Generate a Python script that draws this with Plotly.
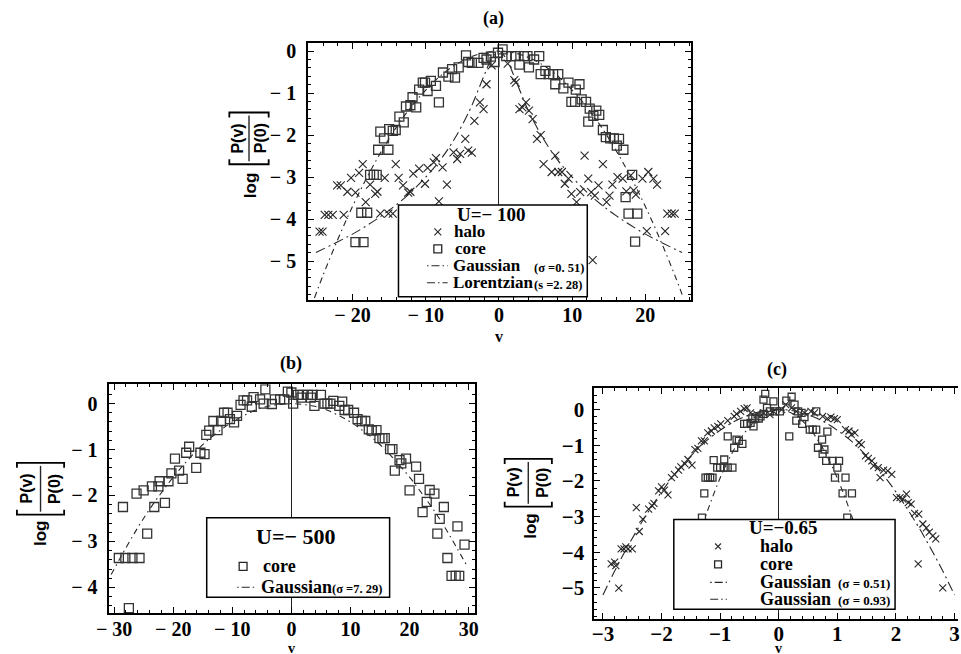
import plotly.graph_objects as go

W, H = 961, 654

# ---------------- data ----------------
# panel (a)  U = -100
a_halo_v = [-24.5, -24.1, -23.8, -23.3, -22.7, -21.2, -22.1, -21.6, -20.2, -20.7, -19.6, -19.1, -18.6,
            -17.6, -16.9, -16.6, -18.2, -15.6, -14.1, -13.7, -13.1, -12.4, -12.1, -11.7, -10.9, -10.1,
            -9.75, -8.9, -8.6, -7.7, -7.1, -8.2, -15.1, -14.5, -16.2, -6.2, -5.7, -5.3, -4.2, -3.7, -4.6,
            -3.35, -2.6, -2.1, -1.7, -1.0,
            1.2, 2.1, 2.3, 2.8, 3.2, 3.7, 4.1, 4.6, 5.2, 5.7, 6.1, 7.2, 7.7, 8.1, 8.6, 9.0, 9.5, 9.9,
            10.6, 11.1, 11.7, 12.2, 12.6, 13.1, 13.6, 14.2, 14.7, 15.1, 15.5, 16.2, 16.9, 17.4, 18.0,
            18.4, 18.7, 19.6, 20.4, 21.1, 21.6, 20.2, 22.7, 23.0, 23.6, 24.0, 12.8]
a_halo_logp = [-4.3, -4.3, -3.9, -3.9, -3.9, -3.9, -3.2, -3.2, -3.02, -3.35, -3.37, -2.9, -2.69,
               -3.18, -3.4, -3.35, -3.6, -3.02, -2.69, -3.02, -3.2, -3.37, -3.35, -2.92, -2.8, -3.16,
               -2.78, -2.65, -2.55, -2.77, -3.18, -3.58, -3.87, -3.87, -3.87, -2.41, -2.57, -2.45, -2.37,
               -2.42, -2.09, -1.66, -1.22, -1.38, -0.79, -0.34,
               -0.3, -0.69, -0.75, -1.38, -1.34, -1.22, -1.42, -1.62, -2.09, -2.0, -2.69, -2.88, -2.49,
               -2.88, -2.88, -3.16, -3.04, -3.4, -3.6, -3.36, -2.49, -3.04, -3.36, -3.44, -3.2, -2.69,
               -3.6, -3.44, -3.18, -3.0, -3.04, -3.34, -2.96, -3.32, -3.42, -3.04, -2.88, -3.04, -3.18,
               -4.29, -4.29, -3.87, -3.87, -3.87, -4.98]
a_core_v = [-19.6, -18.5, -18.8, -18.0, -17.6, -17.1, -16.7, -16.5, -15.1, -16.2, -15.7, -15.0, -14.5,
            -14.1, -13.6, -13.0, -12.7, -12.1, -11.8, -11.3, -10.9, -10.4, -10.1, -9.75, -9.3, -8.6,
            -8.2, -7.65, -6.9, -6.4, -6.0, -5.5, -4.5, -4.2, -3.7, -2.8, -2.1, -1.7, -1.1, -0.6, -0.13,
            0.5, 1.0, 1.7, 2.3, 2.8, 3.4, 3.9, 4.1, 4.8, 5.5, 5.7, 6.35, 6.8, 7.4, 8.1, 7.7, 8.8, 9.5,
            10.5, 11.0, 9.9, 10.4, 11.3, 11.9, 12.4, 12.9, 13.3, 13.7, 12.2, 14.2, 14.6, 15.2, 15.7,
            16.4, 16.1, 17.0, 18.2, 17.3, 17.7, 18.9, 18.6]
a_core_logp = [-4.55, -4.55, -3.85, -3.85, -2.95, -2.95, -2.95, -2.35, -2.35, -1.92, -2.08, -1.86, -1.9,
               -1.88, -1.56, -1.7, -1.32, -1.29, -1.1, -1.34, -0.92, -0.75, -0.75, -0.95, -0.71, -0.83,
               -1.22, -0.51, -0.61, -0.43, -0.63, -0.39, -0.1, -0.26, -0.28, -0.28, -0.16, -0.2, -0.13,
               -0.26, -0.04,
               0.04, -0.12, -0.12, -0.12, -0.32, -0.12, -0.12, -0.39, -0.2, -0.12, -0.55, -0.47, -0.55,
               -0.55, -0.55, -0.79, -0.89, -0.75, -0.92, -0.79, -1.21, -1.21, -1.15, -1.21, -1.37, -1.54,
               -1.42, -1.52, -1.68, -1.88, -2.05, -2.08, -2.08, -2.09, -2.25, -2.35, -2.95, -3.48, -3.87,
               -3.87, -4.54]
a_gauss_v = [-25.2, -24, -22, -20, -18, -16, -14, -12, -10, -8, -6, -4, -2, 0,
             2, 4, 6, 8, 10, 12, 14, 16, 18, 20, 22, 24, 25.2]
a_gauss_logp = [-5.88, -5.33, -4.48, -3.70, -3.00, -2.37, -1.81, -1.33, -0.93, -0.59, -0.33, -0.15, -0.04, 0,
                -0.04, -0.15, -0.33, -0.59, -0.93, -1.33, -1.81, -2.37, -3.00, -3.70, -4.48, -5.33, -5.88]
a_lor_v = [-25, -22, -20, -18, -16, -14, -12, -10, -8, -6, -4, -3, -2, -1, 0,
           1, 2, 3, 4, 6, 8, 10, 12, 14, 16, 18, 20, 22, 25]
a_lor_logp = [-4.80, -4.54, -4.36, -4.15, -3.92, -3.66, -3.36, -3.0, -2.59, -2.07, -1.41, -1.0, -0.57, -0.18, 0,
              -0.18, -0.57, -1.0, -1.41, -2.07, -2.59, -3.0, -3.36, -3.66, -3.92, -4.15, -4.36, -4.54, -4.80]

# panel (b)  U = -500
b_core_v = [-27.5, -28.5, -29.2, -28.1, -26.9, -25.7, -26.2, -25.0, -24.4, -23.6, -22.5, -23.2, -22.3,
            -21.4, -20.8, -20.3, -19.7, -19.0, -18.4, -17.8, -17.3, -16.1, -15.4, -14.7, -14.4, -13.9,
            -13.2, -12.5, -11.9, -11.4, -10.8, -10.4, -9.7, -9.2, -8.6, -8.1, -7.5, -6.7, -6.4, -5.3,
            -4.4, -4.7, -3.3, -2.8, -1.9, -1.2, -0.6, 0.3, 0.0,
            1.1, 1.9, 2.8, 3.6, 1.7, 3.3, 3.9, 5.0, 5.6, 6.1, 6.6, 7.1, 8.1, 8.6, 9.0, 9.6, 10.6, 11.2,
            11.9, 12.5, 13.1, 13.6, 14.4, 14.9, 15.4, 15.8, 16.7, 17.1, 17.5, 18.3, 19.4, 18.6, 20.0,
            21.1, 21.6, 22.2, 22.9, 23.4, 24.2, 24.7, 25.1, 25.8, 26.4, 27.1, 27.8, 28.4, 28.1, 29.3]
b_core_logp = [-4.45, -2.25, -3.36, -3.36, -3.36, -3.36, -1.96, -1.89, -2.83, -1.8, -1.8, -2.25, -1.69,
               -2.16, -1.69, -1.52, -1.2, -1.46, -1.64, -1.07, -0.94, -1.4, -1.07, -1.1, -0.68, -0.59,
               -0.38, -0.58, -0.38, -0.2, -0.2, -0.34, -0.41, -0.27, -0.03, 0.07, 0.07, -0.07, 0.14, 0.09,
               0.31, 0.0, -0.01, 0.09, 0.09, 0.09, 0.26, 0.0, 0.24,
               0.19, 0.19, 0.19, 0.19, 0.13, 0.13, -0.05, 0.19, 0.0, 0.0, 0.0, 0.06, -0.05, 0.04, -0.14,
               -0.14, -0.2, -0.34, -0.38, -0.38, -0.56, -0.59, -0.58, -0.75, -0.75, -0.75, -0.99, -0.99,
               -1.46, -1.23, -1.2, -1.3, -1.89, -1.37, -1.64, -2.36, -2.14, -1.88, -1.96, -2.83, -2.51,
               -2.25, -3.36, -3.75, -3.75, -3.75, -2.67, -3.07]
b_gauss_v = [-30.5, -28, -26, -24, -22, -20, -18, -16, -14, -12, -10, -8, -6, -4, -2, 0,
             2, 4, 6, 8, 10, 12, 14, 16, 18, 20, 22, 24, 26, 28, 29.8]
b_gauss_logp = [-3.72, -3.14, -2.70, -2.30, -1.94, -1.60, -1.30, -1.02, -0.78, -0.58, -0.40, -0.26, -0.14,
                -0.06, -0.02, 0, -0.02, -0.06, -0.14, -0.26, -0.40, -0.58, -0.78, -1.02, -1.30, -1.60,
                -1.94, -2.30, -2.70, -3.14, -3.55]

# panel (c)  U = -0.65
c_halo_v = [-2.73, -2.86, -2.78, -2.8, -2.69, -2.64, -2.57, -2.5, -2.61, -2.43, -2.38, -2.32, -2.22,
            -2.16, -2.13, -2.05, -2.0, -1.95, -1.89, -1.83, -1.78, -1.71, -1.67, -1.6, -1.55, -1.48,
            -1.43, -1.38, -1.32, -1.27, -1.21, -1.15, -1.1, -1.04, -0.99, -0.87, -0.76, -0.72, -0.65,
            -0.59, -0.54, -0.48, -0.37, -0.26, -0.15, -0.09,
            0.05, 0.12, 0.22, 0.3, 0.44, 0.55, 0.61, 0.75, 0.83, 0.89, 0.95, 1.0, 1.14, 1.2, 1.24, 1.3,
            1.37, 1.41, 1.48, 1.53, 1.59, 1.62, 1.7, 1.79, 1.86, 1.73, 1.93, 2.01, 2.07, 2.12, 2.18,
            2.21, 2.26, 2.32, 2.39, 2.46, 2.52, 2.57, 2.63, 2.68, 2.38, 2.8]
c_halo_logp = [-5.01, -4.33, -4.38, -4.28, -3.91, -3.91, -3.91, -3.91, -3.85, -2.75, -3.42, -3.07, -2.79,
               -2.7, -2.63, -2.28, -2.17, -2.26, -2.39, -1.91, -1.82, -1.7, -1.61, -1.52, -1.4, -1.56,
               -1.12, -1.09, -0.88, -0.88, -0.65, -0.6, -0.51, -0.47, -0.4, -0.31, -0.19, -0.12, -0.05,
               0.03, 0.05, -0.09, -0.14, -0.09, -0.14, -0.05,
               0.0, 0.14, 0.05, -0.05, -0.09, -0.05, -0.09, -0.19, -0.25, -0.21, -0.25, -0.28, -0.56,
               -0.6, -0.7, -0.65, -0.93, -0.98, -1.3, -1.37, -1.44, -1.58, -1.63, -1.7, -1.72, -1.91,
               -1.82, -2.47, -2.47, -2.51, -2.37, -2.61, -2.65, -2.91, -2.93, -3.21, -3.32, -3.44, -3.54,
               -3.63, -4.33, -5.0]
c_core_v = [-1.31, -1.27, -1.25, -1.21, -1.17, -1.13, -1.11, -1.05, -1.0, -0.94, -0.87, -0.79, -0.93,
            -0.87, -0.76, -0.72, -0.68, -0.62, -0.59, -0.54, -0.48, -0.43, -0.45, -0.4, -0.34, -0.31,
            -0.26, -0.23, -0.26, -0.2, -0.09, -0.15, -0.06,
            0.02, 0.13, 0.22, 0.27, 0.33, 0.39, 0.44, 0.3, 0.4, 0.53, 0.58, 0.64, 0.18, 0.64, 0.74,
            0.83, 0.67, 0.78, 0.75, 0.81, 0.92, 1.03, 1.0, 0.96, 1.14, 1.09, 1.25, 1.17]
c_core_logp = [-3.03, -2.35, -1.91, -1.91, -1.91, -1.91, -1.42, -1.63, -1.63, -1.63, -1.63, -1.63, -1.4,
               -0.75, -1.07, -0.84, -0.88, -0.96, -0.4, -0.4, -0.37, -0.47, -0.25, -0.25, -0.25, -0.19,
               -0.12, 0.44, 0.28, 0.05, 0.23, -0.05, -0.05,
               -0.05, 0.25, 0.36, 0.14, -0.05, -0.09, -0.21, -0.31, -0.4, -0.56, -0.56, -0.56, -0.75,
               -0.05, -0.84, -0.62, -1.07, -1.12, -1.24, -1.44, -1.44, -1.44, -1.63, -1.91, -1.91,
               -2.35, -2.35, -3.03]
c_g51_v = [-1.6, -1.5, -1.4, -1.3, -1.2, -1.1, -1.0, -0.9, -0.8, -0.7, -0.6, -0.5, -0.4, -0.3, -0.2, -0.1, 0,
           0.1, 0.2, 0.3, 0.4, 0.5, 0.6, 0.7, 0.8, 0.9, 1.0, 1.1, 1.2, 1.3, 1.4, 1.5, 1.6]
c_g51_logp = [-4.92, -4.33, -3.77, -3.25, -2.77, -2.33, -1.92, -1.56, -1.23, -0.94, -0.69, -0.48, -0.31,
              -0.17, -0.08, -0.02, 0,
              -0.02, -0.08, -0.17, -0.31, -0.48, -0.69, -0.94, -1.23, -1.56, -1.92, -2.33, -2.77, -3.25,
              -3.77, -4.33, -4.92]
c_g93_v = [-3.0, -2.8, -2.6, -2.4, -2.2, -2.0, -1.8, -1.6, -1.4, -1.2, -1.0, -0.8, -0.6, -0.4, -0.2, 0,
           0.2, 0.4, 0.6, 0.8, 1.0, 1.2, 1.4, 1.6, 1.8, 2.0, 2.2, 2.4, 2.6, 2.8, 3.0]
c_g93_logp = [-5.20, -4.53, -3.91, -3.33, -2.80, -2.31, -1.87, -1.48, -1.13, -0.83, -0.58, -0.37, -0.21,
              -0.09, -0.02, 0,
              -0.02, -0.09, -0.21, -0.37, -0.58, -0.83, -1.13, -1.48, -1.87, -2.31, -2.80, -3.33, -3.91,
              -4.53, -5.20]

# tick labels
a_xtickvals = [-20, -10, 0, 10, 20]
a_xticktext = ["\u2212 20", "\u2212 10", "0", "10", "20"]
a_ytickvals = [0, -1, -2, -3, -4, -5]
a_yticktext = ["0", "\u2212 1", "\u2212 2", "\u2212 3", "\u2212 4", "\u2212 5"]
b_xtickvals = [-30, -20, -10, 0, 10, 20, 30]
b_xticktext = ["\u2212 30", "\u2212 20", "\u2212 10", "0", "10", "20", "30"]
b_ytickvals = [0, -1, -2, -3, -4]
b_yticktext = ["0", "\u2212 1", "\u2212 2", "\u2212 3", "\u2212 4"]
c_xtickvals = [-3, -2, -1, 0, 1, 2, 3]
c_xticktext = ["\u22123", "\u22122", "\u22121", "0", "1", "2", "3"]
c_ytickvals = [0, -1, -2, -3, -4, -5]
c_yticktext = ["0", "\u22121", "\u22122", "\u22123", "\u22124", "\u22125"]

# ---------------- helpers ----------------
def px(x):
    return x / W


def py(y):
    return 1 - y / H


SERIF = "Liberation Serif"
SANS = "Liberation Sans"
INK = "#262626"

fig = go.Figure()


def curve(x, y, xa, ya, dash):
    fig.add_trace(go.Scatter(x=x, y=y, xaxis=xa, yaxis=ya, mode="lines", line_shape="spline",
                             line=dict(color=INK, width=1.1, dash=dash), showlegend=False,
                             hoverinfo="skip"))


def halo(x, y, xa, ya, size):
    fig.add_trace(go.Scatter(x=x, y=y, xaxis=xa, yaxis=ya, mode="markers", showlegend=False,
                             marker=dict(symbol="x-thin", size=size, color=INK,
                                         line=dict(color=INK, width=1.1))))


def core(x, y, xa, ya, size):
    fig.add_trace(go.Scatter(x=x, y=y, xaxis=xa, yaxis=ya, mode="markers", showlegend=False,
                             marker=dict(symbol="square-open", size=size, color="#333333",
                                         line=dict(color="#333333", width=1.3))))


DASH_G = "6px,4px,1.5px,4px"
DASH_L = "10px,4px,2px,4px"

# panel (a)
curve(a_gauss_v, a_gauss_logp, "x", "y", DASH_G)
curve(a_lor_v, a_lor_logp, "x", "y", DASH_L)
halo(a_halo_v, a_halo_logp, "x", "y", 8)
core(a_core_v, a_core_logp, "x", "y", 9)
# panel (b)
curve(b_gauss_v, b_gauss_logp, "x2", "y2", DASH_G)
core(b_core_v, b_core_logp, "x2", "y2", 9)
# panel (c)
curve(c_g51_v, c_g51_logp, "x3", "y3", DASH_G)
curve(c_g93_v, c_g93_logp, "x3", "y3", DASH_L)
halo(c_halo_v, c_halo_logp, "x3", "y3", 7)
core(c_core_v, c_core_logp, "x3", "y3", 7)


def bold(labels):
    return [f"<b>{t}</b>" for t in labels]


def axis(domain, rng, tv, tt, minor, anchor, size, mirror="allticks", zero=False, standoff=0):
    d = dict(domain=domain, range=rng, anchor=anchor, tickmode="array", tickvals=tv, ticktext=bold(tt),
             showline=True, linecolor="black", linewidth=1.5, mirror=mirror,
             ticks="inside", ticklen=6, tickwidth=1.2, tickcolor="black",
             ticklabelstandoff=standoff,
             showgrid=False, zeroline=zero, zerolinecolor="#222222", zerolinewidth=1.3,
             tickfont=dict(family=SERIF, size=size, color="black"),
             minor=dict(ticks="inside", ticklen=3, tickwidth=1, tickcolor="black",
                        tickmode="linear", tick0=0, dtick=minor, showgrid=False),
             fixedrange=True)
    return d


fig.update_layout(
    width=W, height=H, margin=dict(l=0, r=0, t=0, b=0),
    paper_bgcolor="white", plot_bgcolor="white", showlegend=False,
    xaxis=axis([px(300), px(689)], [-26.08, 26.17], a_xtickvals, a_xticktext, 2, "y", 20, zero=True, standoff=-3),
    yaxis=axis([py(298), py(40)], [-5.92, 0.197], a_ytickvals, a_yticktext, 0.2, "x", 20, standoff=6),
    xaxis2=axis([px(98), px(470)], [-30.8, 31.1], b_xtickvals, b_xticktext, 2, "y2", 20, zero=True, standoff=-3),
    yaxis2=axis([py(613), py(383)], [-4.56, 0.42], b_ytickvals, b_yticktext, 0.2, "x2", 20, standoff=6),
    xaxis3=axis([px(591), 1.0], [-3.15, 3.06], c_xtickvals, c_xticktext, 0.2, "y3", 21, zero=True, standoff=-5),
    yaxis3=axis([py(619), py(387)], [-5.88, 0.6], c_ytickvals, c_yticktext, 0.2, "x3", 21,
                mirror=False, standoff=4),
)

shapes = []
annotations = []


def text(x, y, s, size, family=SERIF, anchor="center", angle=0):
    annotations.append(dict(xref="paper", yref="paper", x=px(x), y=py(y), text=s, showarrow=False,
                            xanchor=anchor, yanchor="middle", textangle=angle,
                            font=dict(family=family, size=size, color="black")))


def rect(x0, y0, x1, y1, width=1.5, fill="white"):
    shapes.append(dict(type="rect", xref="paper", yref="paper", x0=px(x0), y0=py(y0), x1=px(x1),
                       y1=py(y1), line=dict(color="black", width=width), fillcolor=fill,
                       layer="above"))


def seg(x0, y0, x1, y1, dash="solid", width=1.1):
    shapes.append(dict(type="line", xref="paper", yref="paper", x0=px(x0), y0=py(y0), x1=px(x1),
                       y1=py(y1), line=dict(color=INK, width=width, dash=dash), layer="above"))


def sym_x(cx, cy, r=3.5):
    seg(cx - r, cy - r, cx + r, cy + r)
    seg(cx - r, cy + r, cx + r, cy - r)


def sym_sq(cx, cy, r=4):
    shapes.append(dict(type="rect", xref="paper", yref="paper", x0=px(cx - r), y0=py(cy + r),
                       x1=px(cx + r), y1=py(cy - r), line=dict(color=INK, width=1.3),
                       fillcolor="rgba(0,0,0,0)", layer="above"))


def bracket(x0, x1, y, up):
    d = -5 if up else 5
    shapes.append(dict(type="path", xref="paper", yref="paper", layer="above",
                       path=f"M {px(x0)},{py(y + d)} L {px(x0)},{py(y)} L {px(x1)},{py(y)} L {px(x1)},{py(y + d)}",
                       line=dict(color="black", width=1.8)))


def ylabel(lx, numx, denx, fy, btop, bbot, bx0, bx1, logx, logy):
    text(numx, fy, "<b>P(v)</b>", 16, SANS, angle=-90)
    text(denx, fy, "<b>P(0)</b>", 16, SANS, angle=-90)
    seg(lx, btop + 3, lx, bbot - 3, width=1.4)
    bracket(bx0, bx1, btop, up=False)
    bracket(bx0, bx1, bbot, up=True)
    text(logx, logy, "<b>log</b>", 17, SANS, angle=-90)


def small(s, size=12.5):
    return f"<b><span style='font-size:{size}px'>{s}</span></b>"


# titles and axis labels
text(489, 16, "<b>(a)</b>", 18)
text(283, 362, "<b>(b)</b>", 18)
text(777, 368, "<b>(c)</b>", 18)
text(494, 335, "<b>v</b>", 16)
text(283, 648, "<b>v</b>", 14)
text(778, 648, "<b>v</b>", 14)

ylabel(240, 228, 252, 136, 110, 162, 220, 260, 241, 183)
ylabel(28, 14, 42, 488, 462, 514, 4, 52, 28, 533)
ylabel(524, 509, 539, 482, 458, 506, 500, 548, 526, 525)

# legend (a)
rect(392, 203, 584, 295)
text(487, 212, "<b>U=\u2212 100</b>", 19)
sym_x(432, 230)
text(446, 230, "<b>halo</b>", 17, anchor="left")
sym_sq(432, 247)
text(447, 247, "<b>core</b>", 17, anchor="left")
seg(421, 264, 442, 264, dash="1.5px,3px,8px,3px")
text(445, 264, "<b>Gaussian</b>", 17, anchor="left")
text(528, 266, small("(\u03c3 =0. 51)"), 12, anchor="left")
seg(421, 281, 442, 281, dash="8px,3px,1.5px,3px")
text(445, 281, "<b>Lorentzian</b>", 17, anchor="left")
text(528, 283, small("(s =2. 28)"), 12, anchor="left")

# legend (b)
rect(197, 517, 383, 597)
text(287, 536, "<b>U=\u2212 500</b>", 22)
sym_sq(234, 566)
text(252, 566, "<b>core</b>", 18, anchor="left")
seg(228, 587, 247, 587, dash="1.5px,3px,8px,3px")
text(250, 587, "<b>Gaussian</b>", 18, anchor="left")
text(322, 589, small("(\u03c3 =7. 29)"), 12, anchor="left")

# legend (c)
rect(672, 519, 897, 609)
text(784, 527, "<b>U=\u22120.65</b>", 19)
sym_x(717, 546, 3)
text(758, 546, "<b>halo</b>", 18, anchor="left")
sym_sq(717, 564, 3.5)
text(758, 564, "<b>core</b>", 18, anchor="left")
seg(709, 582, 726, 582, dash="1.5px,3px,8px,3px")
text(758, 582, "<b>Gaussian</b>", 18, anchor="left")
text(837, 583, small("(\u03c3 = 0.51)", 13), 13, anchor="left")
seg(709, 599, 726, 599, dash="8px,3px,1.5px,3px")
text(758, 599, "<b>Gaussian</b>", 18, anchor="left")
text(837, 600, small("(\u03c3 = 0.93)", 13), 13, anchor="left")

fig.update_layout(shapes=shapes, annotations=annotations)
fig.write_html("out.html", config={"displayModeBar": False},
               post_script="document.body.style.margin='0px';document.body.style.overflow='hidden';")
